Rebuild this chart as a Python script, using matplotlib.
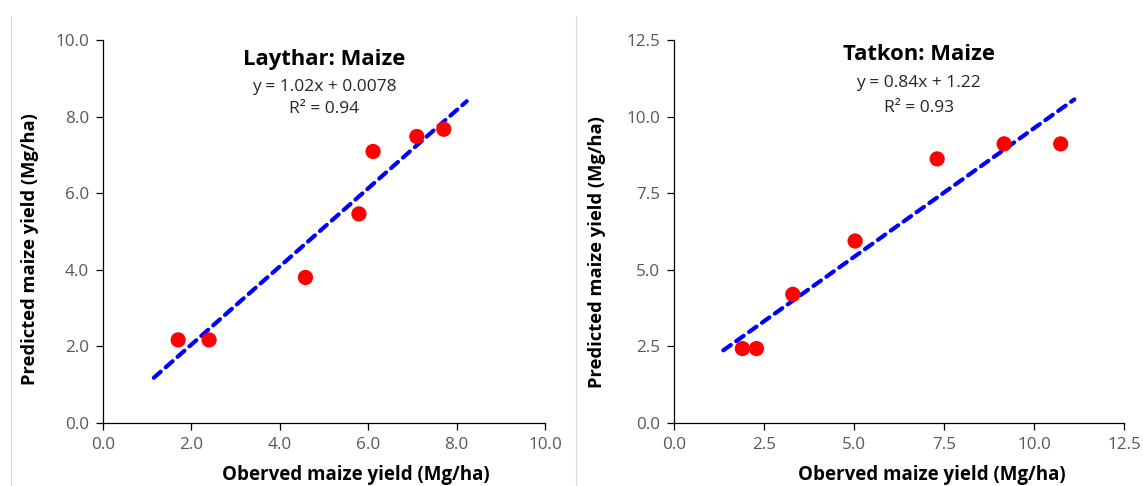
import matplotlib.pyplot as plt
from matplotlib.lines import Line2D
from matplotlib.ticker import FormatStrFormatter, MultipleLocator

plt.rcParams['font.family'] = ['Open Sans', 'DejaVu Sans']

# Laythar site
laythar_obs = [1.70, 2.40, 4.58, 5.79, 6.11, 7.10, 7.71]
laythar_pred = [2.17, 2.17, 3.80, 5.46, 7.09, 7.48, 7.67]
laythar_fit = (1.02, 0.0078, 0.94)
laythar_span = (1.15, 8.23)

# Tatkon site
tatkon_obs = [1.90, 2.29, 3.30, 5.03, 7.31, 9.17, 10.74]
tatkon_pred = [2.43, 2.43, 4.20, 5.94, 8.62, 9.11, 9.11]
tatkon_fit = (0.84, 1.22, 0.93)
tatkon_span = (1.37, 11.12)

W, H = 1143, 486
fig = plt.figure(figsize=(W / 100, H / 100), dpi=100)

# faint chart-area borders
for xpix in (11, 576):
    fig.add_artist(Line2D([xpix / W, xpix / W], [0, 1 - 16 / H],
                          color='#d9d9d9', lw=0.8))

grey = '#595959'


def panel(rect, obs, pred, fit, span, lim, step, name, title_pos, eq_pos, r2_pos, ylab_pos):
    ax = fig.add_axes(rect)
    slope, icpt, r2 = fit
    xs = [span[0], span[1]]
    ys = [slope * v + icpt for v in xs]
    ax.plot(xs, ys, color='#0000ff', lw=3.0, dashes=(2.2, 1.6),
            dash_capstyle='round', zorder=2)
    ax.scatter(obs, pred, s=120, color='#ff0000', edgecolors='none', zorder=3)

    ax.set_xlim(0, lim)
    ax.set_ylim(0, lim)
    ax.xaxis.set_major_locator(MultipleLocator(step))
    ax.yaxis.set_major_locator(MultipleLocator(step))
    ax.xaxis.set_major_formatter(FormatStrFormatter('%.1f'))
    ax.yaxis.set_major_formatter(FormatStrFormatter('%.1f'))
    for s in ('top', 'right'):
        ax.spines[s].set_visible(False)
    for s in ('left', 'bottom'):
        ax.spines[s].set_color('#000000')
        ax.spines[s].set_linewidth(0.9)
    ax.tick_params(direction='out', length=5, width=0.9, color='#000000',
                   labelcolor=grey, labelsize=12.3, pad=5)

    ax.set_xlabel('Oberved maize yield (Mg/ha)', fontsize=13.5, fontweight='bold',
                  color='#000000', va='center')
    ax.xaxis.set_label_coords(0.572, -0.136)
    ax.set_ylabel('Predicted maize yield (Mg/ha)', fontsize=13.2, fontweight='bold',
                  color='#000000', va='center')
    ax.yaxis.set_label_coords(ylab_pos[0], ylab_pos[1])

    ax.text(title_pos[0], title_pos[1], name + ': Maize', transform=ax.transAxes,
            ha='center', va='center', fontsize=15.8, fontweight='bold')
    ax.text(eq_pos[0], eq_pos[1], 'y = {}x + {}'.format(slope, icpt),
            transform=ax.transAxes, ha='center', va='center', fontsize=12.5,
            color='#262626')
    ax.text(r2_pos[0], r2_pos[1], 'R² = {:.2f}'.format(r2),
            transform=ax.transAxes, ha='center', va='center', fontsize=12.5,
            color='#262626')
    return ax


bottom = (H - 423) / H
height = 383 / H
panel([103 / W, bottom, 442 / W, height], laythar_obs, laythar_pred, laythar_fit,
      laythar_span, 10.0, 2.0, 'Laythar',
      (0.50, 0.950), (0.50, 0.877), (0.50, 0.820), (-0.165, 0.453))
panel([674 / W, bottom, 450 / W, height], tatkon_obs, tatkon_pred, tatkon_fit,
      tatkon_span, 12.5, 2.5, 'Tatkon',
      (0.544, 0.963), (0.544, 0.888), (0.544, 0.822), (-0.172, 0.447))

fig.savefig('out.png', dpi=100)
